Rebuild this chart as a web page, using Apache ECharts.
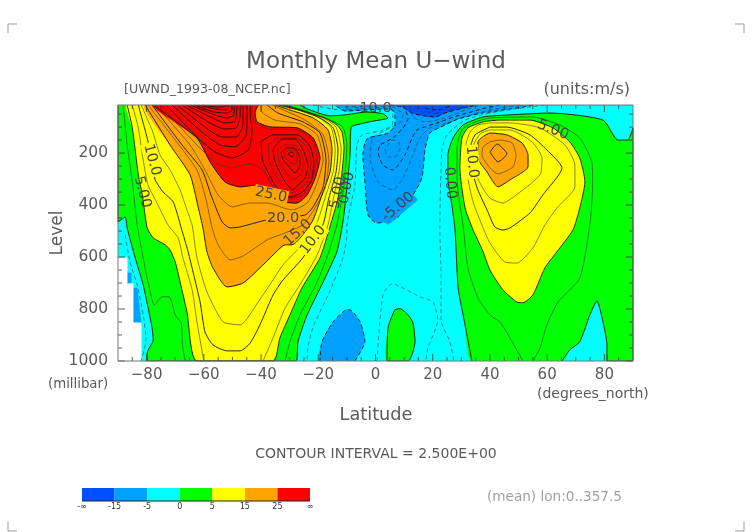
<!DOCTYPE html>
<html><head><meta charset="utf-8">
<style>html,body{margin:0;padding:0;background:#fff}#c{width:752px;height:532px}</style>
<script src="https://cdn.jsdelivr.net/npm/echarts@6/dist/echarts.min.js"></script>
</head><body><div id="c"></div>
<script>
// ---------- contour traces: [latitude, level] ----------
const u0West=[[-26.4,15],[-23.9,30],[-15.9,57],[-10.7,53],[-8.2,49],[-3,42],[2.6,49],[4.4,65],[-0.9,77],[-5.4,88],[-8.5,100],[-8.9,207],[-10,334],[-11.4,465],[-13.5,580],[-18.3,696],[-23.9,823],[-27.1,926],[-27.8,1000],[-79.8,1000],[-79.8,969],[-77.7,919],[-78.1,872],[-81.2,707],[-84,603],[-86.8,488],[-87.5,446],[-90,465],[-90,15]];
const u0East=[[33.7,1000],[31.3,861],[28.9,719],[27.8,496],[26.7,400],[25.3,296],[25.3,207],[27.1,142],[30.6,92],[37.6,61],[47,53],[61,46],[79.5,73],[84.7,150],[88.2,150],[90,103],[90,1000],[80.9,1000],[80.9,938],[79.5,849],[77.4,769],[74.9,823],[71.4,926],[67.9,957],[65.2,1000]];
const u0Patch=[[4,1000],[4.4,872],[6.8,803],[8.6,799],[11.4,823],[13.1,854],[13.8,926],[11.4,1000]];
const u5West=[[-86.8,15],[-85,103],[-82.9,284],[-81.5,361],[-79.8,488],[-77.7,526],[-73.5,553],[-71.8,573],[-70,619],[-68.3,696],[-65.9,811],[-62.4,1000],[-35.8,1000],[-33.4,911],[-29.9,823],[-25.7,719],[-19.4,603],[-15.9,484],[-13.1,373],[-11.7,273],[-11,180],[-11.7,119],[-13.5,92],[-17.6,65],[-22.9,46],[-29.9,23],[-32.3,15]];
const u5East=[[34.1,496],[31.3,411],[29.5,257],[30.2,142],[32.3,103],[37.6,80],[43.5,73],[54,73],[62,103],[67.9,157],[71.4,219],[73.2,311],[71.4,411],[69,496],[63.4,580],[59.2,642],[55,746],[51.5,776],[49.4,773],[44.5,726],[40,650],[37.6,580]];
const u15West=[[-80.5,15],[-71.8,169],[-64.8,284],[-62,407],[-60.3,488],[-58.9,580],[-56.8,642],[-51.9,715],[-46.3,700],[-40.4,642],[-35.8,592],[-31.6,553],[-29.2,553],[-22.2,465],[-18.7,361],[-15.9,273],[-15.2,188],[-16.6,111],[-21.8,65],[-29.9,34],[-35.1,15]];
const u15East=[[35.8,177],[35.8,157],[40,123],[45.9,130],[51.2,161],[53.3,207],[53.3,253],[47,303],[42.8,330],[39,273],[35.8,219]];
const u25West=[[-77.7,15],[-62.4,142],[-57.8,234],[-52.6,311],[-47.3,330],[-41.4,323],[-36.9,349],[-31.6,388],[-27.4,392],[-23.9,361],[-21.1,296],[-19.4,219],[-21.8,142],[-27.4,103],[-36.9,99],[-41.4,80],[-42.1,42],[-41,15]];
const uM5Main=[[55,15],[51.5,23],[47,30],[40,42],[37.2,46],[28.9,69],[24.3,92],[19,123],[17.3,188],[16.2,296],[13.1,361],[7.5,450],[0.5,469],[-2.6,438],[-3.7,311],[-4.4,207],[-3.7,161],[-2.6,142],[4.4,123],[6.8,92],[6.8,46],[5.1,30],[-3.7,34],[-10.7,38],[-14.1,15]];
const uM5Low=[[-7.2,1000],[-6.5,988],[-3.7,926],[-5.4,849],[-8.9,803],[-10,803],[-14.8,849],[-18.7,926],[-19.4,1000]];
const uM5WestA=[[-86.8,661],[-85.4,661],[-85.4,700],[-86.8,700]];
const uM5WestB=[[-84.7,719],[-83.3,719],[-81.9,853],[-84.7,853]];
const uM15Top=[[5.1,15],[9.6,23],[11.4,38],[14.8,53],[20.8,61],[25.3,42],[32.3,23],[35.5,15]];
const missingCells=[[-90,603],[-86.8,603],[-86.8,703],[-84.7,703],[-84.7,853],[-81.9,853],[-81.9,1000],[-90,1000]];

const u2p5WestA=[[-88.2,15],[-86.8,169],[-85,311],[-83.3,477],[-81.2,603],[-79.5,696],[-77.3,784],[-74.6,753],[-72.1,753],[-70,823],[-67.9,854],[-67.5,938],[-66.5,1000]];
const u2p5WestB=[[-31.3,15],[-23.9,42],[-15.9,73],[-11.4,100],[-10,169],[-11,323],[-12.8,438],[-13.5,477],[-16.3,580],[-20.4,696],[-26.4,823],[-29.9,926],[-31.6,1000]];
const u2p5East=[[51.5,1000],[47,911],[43.5,850],[40,823],[35.8,757],[32.3,642],[30.6,477],[29.5,400],[28.5,296],[28.5,180],[30.2,111],[34,84],[40,65],[55,61],[64.5,92],[71.4,142],[75.6,234],[75.9,323],[74.9,477],[71.4,681],[63.8,773],[59.9,861],[57.5,950],[55,1000]];
const u7p5WestA=[[-85,15],[-82.9,103],[-81.2,226],[-79.5,323],[-76,400],[-72.5,477],[-69,526],[-67.3,603],[-64.1,726],[-62.4,850],[-60,1000]];
const u7p5WestB=[[-39.3,1000],[-35.8,911],[-31.6,796],[-26.4,707],[-20.4,592],[-16.6,477],[-14.8,380],[-12.8,273],[-12,188],[-13.8,100],[-18.3,65],[-26.4,30],[-33,15]];
const u7p5East=[[40,84],[47,84],[57.5,103],[66.2,169],[69.7,246],[69.7,330],[63.4,411],[59.2,477],[55,565],[49.4,623],[45.2,619],[40,546],[37.2,477],[34.1,388],[32.3,296],[31.3,188],[33,119],[35.8,92]];
const u10West=[[-82.9,15],[-79.8,142],[-78.1,226],[-77,303],[-74.2,350],[-70.7,388],[-67.9,488],[-65.5,580],[-61.3,773],[-59.6,888],[-56.8,938],[-51.9,961],[-47.3,961],[-43.8,931],[-40.4,861],[-35.8,746],[-32.3,688],[-25.4,603],[-18.4,477],[-16.3,373],[-13.8,273],[-13.1,188],[-14.8,103],[-19.4,65],[-27.1,34],[-33.7,15]];
const u10East=[[40,100],[45.9,100],[54,130],[59.9,188],[65.2,257],[58.5,361],[54,430],[47,488],[44.5,496],[41.7,484],[39,419],[35.8,342],[33.7,265],[33,188],[34.8,130]];
const u12p5West=[[-81.9,15],[-78.1,111],[-75.3,207],[-71.8,265],[-68.3,342],[-65.9,419],[-64.1,477],[-62.4,603],[-58.9,734],[-53.3,849],[-47.3,861],[-41,773],[-35.8,688],[-32.3,630],[-26.4,561],[-20.8,477],[-17.3,361],[-14.8,273],[-14.1,188],[-15.5,103],[-20.8,57],[-28.1,30],[-34.4,15]];
const u12p5East=[[40,111],[47,111],[54.7,157],[58.2,219],[57.5,284],[50.5,350],[44.5,392],[40,373],[36.5,315],[34.4,246],[34.4,169],[36.9,123]];
const u17p5West=[[-79.5,15],[-70,150],[-62.4,265],[-59.2,380],[-57.1,488],[-55,553],[-50.8,611],[-46.3,596],[-37.9,534],[-31.6,507],[-25.4,476],[-21.1,411],[-17.6,334],[-16.3,226],[-18.3,130],[-24.6,73],[-36.2,15]];
const u17p5East=[[40,157],[43.5,150],[47.7,161],[49.1,207],[48.1,253],[42.8,280],[40,257],[37.2,207],[37.6,177]];
const u20West=[[-78.1,15],[-67.6,169],[-60.6,265],[-57.5,361],[-53.6,465],[-50.8,488],[-47.3,484],[-37.9,457],[-24.6,438],[-21.8,407],[-18.3,330],[-17.3,226],[-19.4,123],[-25.4,80],[-34.1,46],[-37.9,15]];
const u20East=[[40,196],[42.5,165],[45.9,203],[42.8,234]];
const u22p5West=[[-77,15],[-64.8,169],[-59.6,265],[-55,361],[-50.1,407],[-43.8,392],[-37.9,392],[-29.2,419],[-23.9,392],[-20.7,323],[-18.3,226],[-20.4,130],[-26.4,88],[-35.1,73],[-39.7,42],[-40,15]];
const u27p5West=[[-75.3,15],[-62.4,169],[-56.1,234],[-50.8,257],[-43.8,242],[-39.3,265],[-35.1,342],[-29.9,373],[-25.4,361],[-22.2,300],[-20.4,215],[-22.2,146],[-27.4,111],[-37.5,107],[-42.4,80],[-43.5,38],[-42.8,15]];
const core30=[[-40,157],[-35.8,130],[-27.4,130],[-23.2,169],[-21.5,234],[-22.5,307],[-25.4,349],[-29.9,369],[-34.4,334],[-39.3,234]];
const core32p5=[[-37.5,169],[-34.1,142],[-27.8,142],[-23.9,180],[-22.5,238],[-23.6,303],[-26,334],[-29.2,353],[-33,319],[-36.9,238]];
const core35=[[-35.8,188],[-32.7,146],[-28.1,146],[-25,196],[-23.6,250],[-24.6,296],[-27.1,323],[-28.8,342],[-31.6,311],[-35.1,234]];
const core37p5=[[-34.1,188],[-31.6,169],[-28.5,169],[-26,200],[-25,250],[-26.4,284],[-28.5,303],[-30.6,284],[-33.7,234]];
const core40=[[-33,200],[-30.9,180],[-28.5,180],[-26.7,207],[-26.4,246],[-28.1,276],[-29.9,257],[-32.3,226]];
const core42p5=[[-32,200],[-30.2,188],[-28.1,192],[-27.4,215],[-27.8,242],[-29.5,238],[-31.6,219]];
const core45=[[-30.6,203],[-29.5,196],[-28.5,203],[-29.2,215]];
const top30=[[-73.2,15],[-61.3,150],[-56.1,196],[-50.1,219],[-44.5,188],[-43.1,111],[-43.8,53],[-43.8,15]];
const top32p5=[[-71.1,15],[-60.3,123],[-54.3,169],[-49.1,176],[-45.2,130],[-44.9,65],[-44.9,15]];
const top35=[[-69.3,15],[-59.6,100],[-53.6,138],[-48.7,138],[-46.3,92],[-46.3,15]];
const top37p5=[[-67.6,15],[-58.5,80],[-52.9,107],[-48.7,103],[-47.3,57],[-47.3,15]];
const top40=[[-66.2,15],[-57.8,61],[-52.6,84],[-49.1,77],[-48.4,15]];
const top42p5=[[-64.8,15],[-57.1,49],[-52.2,65],[-49.4,53],[-49.4,15]];
const top45=[[-63.4,15],[-56.4,42],[-52.2,46],[-50.1,34],[-50.5,15]];
const top47p5=[[-62,15],[-56.1,30],[-52.2,34],[-51.2,15]];
const top50=[[-60.6,15],[-55,23],[-52.2,19],[-51.9,15]];

const uM2p5FarWest=[[-87.5,515],[-85.8,619],[-83.3,707],[-81.2,823],[-80.2,919],[-81.9,1000]];
const uM2p5Mid=[[-21.8,15],[-12.4,34],[-5.4,30],[3.3,23],[6.1,42],[5.8,92],[1.6,115],[-4.7,130],[-6.5,169],[-7.2,323],[-10,484],[-10,511],[-11.4,603],[-15.9,730],[-21.8,869],[-23.6,946],[-23.9,1000]];
const uM2p5East=[[59.2,15],[48.7,30],[40,46],[31.3,73],[25,130],[23.2,188],[22.5,496],[22.9,669],[22.9,842],[26,926],[27.4,1000]];
const uM2p5Loop=[[0.5,1000],[2.6,746],[5.8,703],[15.5,753],[20.1,773],[21.8,842],[18.3,950],[17.6,1000]];
const uM7p5=[[3.3,15],[7.2,27],[9.6,53],[8.6,84],[5.1,103],[-0.9,142],[-1.9,219],[0.9,311],[6.1,342],[9.6,296],[13.1,207],[15.5,142],[19,103],[25,84],[29.5,65],[40,34],[50.5,15]];
const uM7p5West=[[-10.7,23],[-3.7,19],[3.3,19]];
const uM10=[[9.6,15],[11.4,65],[9.6,103],[6.1,142],[1.6,169],[0.9,196],[2.6,246],[6.1,265],[10.3,207],[12.8,142],[14.5,111],[21.5,84],[28.5,57],[38.3,27],[43.5,15]];
const uM12p5Loop=[[3.3,188],[4.4,215],[6.8,215],[8.6,180],[7.9,157],[5.8,150]];
const uM12p5Top=[[12.1,15],[13.1,61],[17.3,80],[24.3,65],[31.3,34],[36.5,15]];
const uM17p5=[[13.8,23],[17.3,46],[22.5,46],[27.8,27],[30.2,15]];
const uM20=[[17.3,27],[21.9,34],[26,19]];

// ---------- ticks, labels, legend ----------
const latMajor=[-80,-60,-40,-20,0,20,40,60,80];
const latMinor=[-85,-75,-70,-65,-55,-50,-45,-35,-30,-25,-15,-10,-5,5,10,15,25,30,35,45,50,55,65,70,75,85];
const levelMajor=[200,400,600,800,1000];
const levelMinor=[50,100,150,250,300,350,450,500,550,650,700,750,850,900,950];
const contourLabels=[
 ['10.0',-78.1,226,-75,'#ffff00'],['5.00',-81.5,350,-75,null],['25.0',-36.5,361,-12,'#ffa500'],
 ['20.0',-32.3,450,0,'#ffa500'],['15.0',-27.1,507,42,null],['10.0',-21.8,534,52,'#ffff00'],
 ['5.00',-13.1,353,78,null],['0.00',-10,334,78,null],['-5.00',7.9,407,40,'#00a0ff'],
 ['-10.0',-0.9,27,0,null],['0.00',26,315,-85,null],['10.0',33.7,234,-85,'#ffff00'],['5.00',62,111,-22,null]];
const legendLabels=['-∞','-15','-5','0','5','15','25','∞'];
const legendColors=['#0050ff','#00a0ff','#00ffff','#00ff00','#ffff00','#ffa500','#ff0000'];
const [cDeep,cBlue,cCyan,cGreen,cYellow,cOrange,cRed]=legendColors;

const fillBands=[
 {p:[[-90,15],[90,15],[90,1000],[-90,1000]],c:cCyan,sharp:1},
 {p:uM5Main,c:cBlue},{p:uM5Low,c:cBlue},{p:uM5WestA,c:cBlue,sharp:1},{p:uM5WestB,c:cBlue,sharp:1},{p:uM15Top,c:cDeep},
 {p:missingCells,c:'#ffffff',sharp:1},
 {p:u0West,c:cGreen},{p:u0East,c:cGreen},{p:u0Patch,c:cGreen},
 {p:u5West,c:cYellow},{p:u5East,c:cYellow},{p:u15West,c:cOrange},{p:u15East,c:cOrange},{p:u25West,c:cRed}];

// [trace, closed, heavy, dashed]
const contourTraces=[
 [u0West,0,1,0],[u0East,0,1,0],[u0Patch,1,1,0],
 [u2p5WestA,0,0,0],[u2p5WestB,0,0,0],[u2p5East,0,0,0],
 [u5West,0,1,0],[u5East,1,1,0],[u7p5WestA,0,0,0],[u7p5WestB,0,0,0],[u7p5East,1,0,0],
 [u10West,0,1,0],[u10East,1,1,0],[u12p5West,0,0,0],[u12p5East,1,0,0],
 [u15West,0,1,0],[u15East,1,1,0],[u17p5West,0,0,0],[u17p5East,1,0,0],
 [u20West,0,1,0],[u20East,1,1,0],[u22p5West,0,0,0],[u25West,0,1,0],[u27p5West,0,0,0],
 [core30,1,1,0],[core32p5,1,0,0],[core35,1,1,0],[core37p5,1,0,0],[core40,1,1,0],[core42p5,1,0,0],[core45,1,1,0],
 [top30,0,1,0],[top32p5,0,1,0],[top35,0,1,0],[top37p5,0,1,0],[top40,0,1,0],[top42p5,0,1,0],[top45,0,1,0],[top47p5,0,1,0],[top50,0,1,0],
 [uM5Main,0,1,1],[uM5Low,0,1,1],[uM15Top,0,1,1],
 [uM2p5FarWest,0,0,1],[uM2p5Mid,0,0,1],[uM2p5East,0,0,1],[uM2p5Loop,0,0,1],
 [uM7p5,0,0,1],[uM7p5West,0,0,1],[uM10,0,1,1],[uM12p5Loop,1,0,1],[uM12p5Top,0,0,1],[uM17p5,0,0,1],[uM20,0,1,1]];

const FONT='"DejaVu Sans"';
const INK='#5a5a5a';
const SMOOTH=0.2;
const series=[];
series.push({type:'custom',silent:true,z:1,animation:false,clip:true,
 data:fillBands.map((b,i)=>[i]),dimensions:['i'],encode:{x:0},
 renderItem(params,api){
  const b=fillBands[params.dataIndex];
  return {type:'polygon',shape:{points:b.p.map(q=>api.coord(q)),smooth:b.sharp?0:SMOOTH},style:{fill:b.c,stroke:b.c,lineWidth:0.5}};
 }});
contourTraces.forEach(t=>{
 const pts=t[1]?t[0].concat([t[0][0]]):t[0];
 series.push({type:'line',z:2,silent:true,animation:false,clip:true,showSymbol:false,symbol:'none',smooth:SMOOTH,
  data:pts,lineStyle:{color:t[2]?'#111':'#333',width:t[2]?0.9:0.6,type:t[3]?[4,3]:'solid'}});
});
series.push({type:'custom',silent:true,z:3,animation:false,clip:false,
 data:contourLabels.map(l=>[l[1],l[2]]),
 renderItem(params,api){
  const l=contourLabels[params.dataIndex],p=api.coord([l[1],l[2]]);
  return {type:'text',x:p[0],y:p[1],rotation:l[3]*Math.PI/180,
   style:{text:l[0],font:'14.5px '+FONT,fill:'#444',align:'center',verticalAlign:'middle',
    backgroundColor:l[4]||'transparent',padding:[0,1]}};
 }});
// frame and inward ticks on all four sides, placed by the axes' own scales
series.push({type:'custom',silent:true,z:4,animation:false,clip:false,data:[[0,500]],
 renderItem(params,api){
  const ch=[];
  const seg=(a,b,c,w)=>ch.push({type:'line',shape:{x1:a[0],y1:a[1],x2:b[0],y2:b[1]},style:{stroke:c,lineWidth:w}});
  const tl=api.coord([-90,15]),br=api.coord([90,1000]);
  const tick=(list,len)=>{
   list.forEach(v=>{const x=api.coord([v,500])[0];seg([x,br[1]],[x,br[1]-len],'#333',0.8);seg([x,tl[1]],[x,tl[1]+len],'#333',0.8);});
  };
  const tickY=(list,len)=>{
   list.forEach(v=>{const y=api.coord([0,v])[1];seg([tl[0],y],[tl[0]+len,y],'#333',0.8);seg([br[0],y],[br[0]-len,y],'#333',0.8);});
  };
  tick(latMajor,7);tick(latMinor,4);tickY(levelMajor,7);tickY(levelMinor,4);
  seg(tl,[br[0],tl[1]],'#777',1);seg([br[0],tl[1]],br,'#777',1);seg(br,[tl[0],br[1]],'#777',1);seg([tl[0],br[1]],tl,'#777',1);
  return {type:'group',children:ch};
 }});

const txt=(s,x,y,size,o={})=>({type:'text',x,y,rotation:o.rot||0,z:10,silent:true,
 style:{text:s,font:size+'px '+FONT,fill:o.fill||INK,align:o.align||'left',verticalAlign:'middle'}});
const corner=(x,y,dx,dy)=>({type:'polyline',z:10,silent:true,shape:{points:[[x,y+dy],[x,y],[x+dx,y]]},style:{stroke:'#999',lineWidth:1,fill:'none'}});
const BAR_L=82,BAR_W=228/7,BAR_T=488,BAR_H=13;
const graphic=[
 txt('Monthly Mean U−wind',376,62,23,{align:'center'}),
 txt('[UWND_1993-08_NCEP.nc]',124,90,12.6),
 txt('(units:m/s)',630,90,16,{align:'right'}),
 txt('Level',58,233,17,{align:'center',rot:Math.PI/2}),
 txt('(millibar)',48,385,13.3),
 txt('Latitude',376,415,17.7,{align:'center'}),
 txt('(degrees_north)',537,394,14),
 txt('CONTOUR INTERVAL = 2.500E+00',376,454,14,{align:'center'}),
 txt('(mean) lon:0..357.5',487,497,13.6,{fill:'#a0a0a0'}),
 corner(8,24,9,9),corner(744,24,-9,9),corner(8,531,9,-9),corner(744,531,-9,-9)
];
legendColors.forEach((c,i)=>graphic.push({type:'rect',z:9,silent:true,shape:{x:BAR_L+i*BAR_W,y:BAR_T,width:BAR_W,height:BAR_H},style:{fill:c}}));
graphic.push({type:'line',z:9,silent:true,shape:{x1:BAR_L,y1:BAR_T+BAR_H,x2:BAR_L+7*BAR_W,y2:BAR_T+BAR_H},style:{stroke:'#222',lineWidth:1}});
legendLabels.forEach((s,i)=>graphic.push(txt(s,BAR_L+i*BAR_W,507,8,{align:'center',fill:'#333'})));

const chart=echarts.init(document.getElementById('c'),null,{renderer:'canvas'});
chart.setOption({
 animation:false,backgroundColor:'#fff',
 grid:{left:118,top:105,width:515,height:256,containLabel:false},
 xAxis:{type:'value',min:-90,max:90,interval:10,axisLine:{show:false},axisTick:{show:false},splitLine:{show:false},
  axisLabel:{margin:7,fontFamily:FONT,fontSize:15,color:INK,showMinLabel:false,showMaxLabel:false,
   formatter:v=>v%20===0?String(v).replace('-','−'):''}},
 yAxis:{type:'value',inverse:true,min:15,max:1000,interval:5,axisLine:{show:false},axisTick:{show:false},splitLine:{show:false},
  axisLabel:{margin:10,fontFamily:FONT,fontSize:15.5,color:INK,showMinLabel:false,showMaxLabel:true,
   formatter:v=>v%200===0?String(v):''}},
 graphic:{elements:graphic},
 series
});
</script></body></html>
